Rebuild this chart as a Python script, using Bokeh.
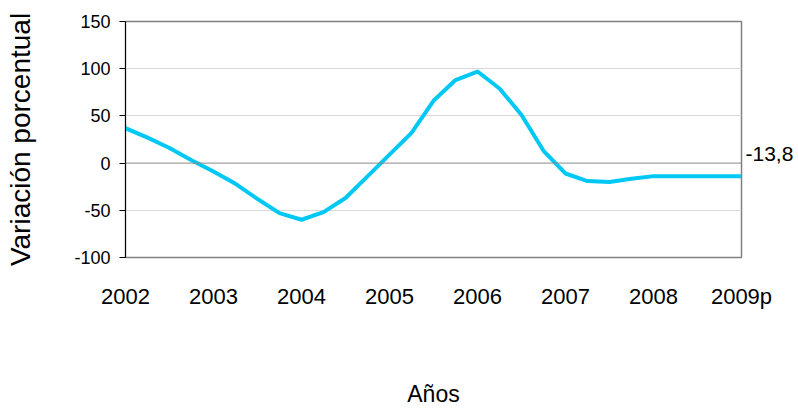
from bokeh.plotting import figure
from bokeh.models import Range1d, FixedTicker, Span, LinearAxis
from bokeh.embed import file_html
from bokeh.resources import INLINE

# Data (quarterly points)
periods = [2002.00, 2002.25, 2002.50, 2002.75,
           2003.00, 2003.25, 2003.50, 2003.75,
           2004.00, 2004.25, 2004.50, 2004.75,
           2005.00, 2005.25, 2005.50, 2005.75,
           2006.00, 2006.25, 2006.50, 2006.75,
           2007.00, 2007.25, 2007.50, 2007.75,
           2008.00, 2008.25, 2008.50, 2008.75,
           2009.00]
values = [37, 27, 16, 3,
          -9, -22, -38, -53,
          -60, -52, -37, -14,
          9, 32, 66, 88,
          97, 79, 51, 13,
          -11, -19, -20, -16.5,
          -13.8, -13.8, -13.8, -13.8,
          -13.8]
years = [2002, 2003, 2004, 2005, 2006, 2007, 2008, 2009]
year_labels = ["2002", "2003", "2004", "2005", "2006", "2007", "2008", "2009p"]
y_ticks = [-100, -50, 0, 50, 100, 150]
y_min, y_max = -100, 150

FONT = "Liberation Sans"

p = figure(width=798, height=410,
           x_range=Range1d(2002, 2009), y_range=Range1d(y_min, y_max),
           output_backend="svg", toolbar_location=None,
           min_border_left=125, min_border_right=57,
           min_border_top=21, min_border_bottom=153)
p.background_fill_color = "white"
p.border_fill_color = "white"
p.outline_line_color = "#808080"
p.outline_line_width = 1.5

# y axis
p.yaxis.ticker = FixedTicker(ticks=y_ticks)
p.yaxis.major_label_overrides = {t: str(t) for t in y_ticks}
p.yaxis.axis_line_color = "black"
p.yaxis.axis_line_width = 1
p.yaxis.major_tick_line_color = "black"
p.yaxis.major_tick_in = 0
p.yaxis.major_tick_out = 6
p.yaxis.minor_tick_line_color = None
p.yaxis.major_label_standoff = 9
p.yaxis.major_label_text_font = FONT
p.yaxis.major_label_text_font_size = "18px"
p.yaxis.major_label_text_color = "black"
p.yaxis.axis_label = "Variación porcentual"
p.yaxis.axis_label_text_font = FONT
p.yaxis.axis_label_text_font_size = "28px"
p.yaxis.axis_label_text_font_style = "normal"
p.yaxis.axis_label_text_color = "black"
p.yaxis.axis_label_standoff = 35

# x axis
p.xaxis.ticker = FixedTicker(ticks=years)
p.xaxis.major_label_overrides = {y: l for y, l in zip(years, year_labels)}
p.xaxis.axis_line_color = None
p.xaxis.major_tick_line_color = None
p.xaxis.minor_tick_line_color = None
p.xaxis.major_label_standoff = 20
p.xaxis.major_label_text_font = FONT
p.xaxis.major_label_text_font_size = "22px"
p.xaxis.major_label_text_color = "black"
p.xaxis.axis_label = "Años"
p.xaxis.axis_label_text_font = FONT
p.xaxis.axis_label_text_font_size = "23px"
p.xaxis.axis_label_text_font_style = "normal"
p.xaxis.axis_label_text_color = "black"
p.xaxis.axis_label_standoff = 69

# grid
p.xgrid.visible = False
p.ygrid.ticker = FixedTicker(ticks=[-50, 50, 100])
p.ygrid.grid_line_color = "#d9d9d9"
p.ygrid.grid_line_width = 1
p.add_layout(Span(location=0, dimension="width", line_color="#8a8a8a", line_width=1))

p.line(x=periods, y=values, line_color="#00C8F5", line_width=4, line_join="round")

# end-value label: drawn by a right-hand axis whose scale is shifted so the
# label sits just above the line end
last_value = values[-1]
last_text = f"{last_value:.1f}".replace(".", ",")
label_shift = 23
p.extra_y_ranges = {"end_label": Range1d(y_min - label_shift, y_max - label_shift)}
end_axis = LinearAxis(y_range_name="end_label",
                      ticker=FixedTicker(ticks=[last_value]),
                      major_label_overrides={last_value: last_text},
                      axis_line_color=None, major_tick_line_color=None,
                      minor_tick_line_color=None, major_tick_in=0, major_tick_out=0,
                      major_label_standoff=4,
                      major_label_text_font=FONT, major_label_text_font_size="21px",
                      major_label_text_color="black")
p.add_layout(end_axis, "right")

open("out.html", "w").write(file_html(p, INLINE))
